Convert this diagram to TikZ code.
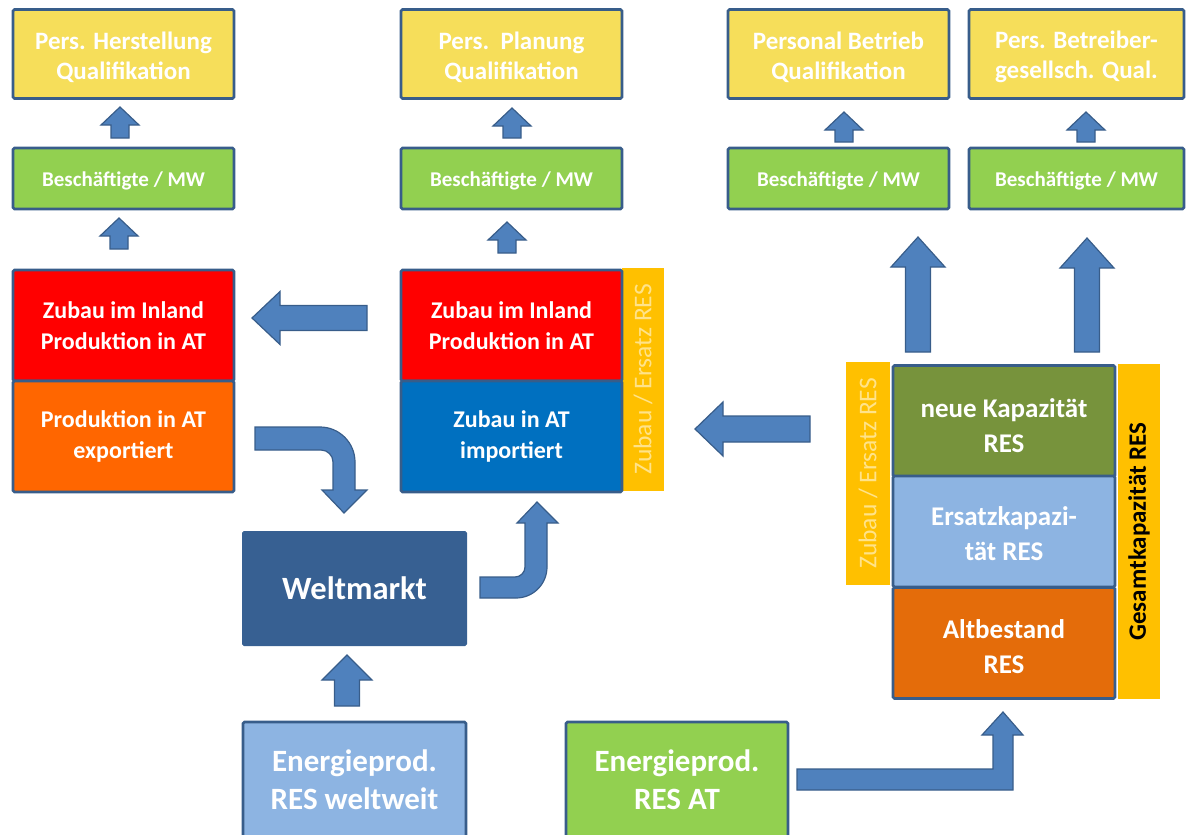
\documentclass[tikz,border=0pt]{standalone}
\usepackage{fontspec}
\setmainfont{Carlito}
\definecolor{bordc}{HTML}{385D8A}
\definecolor{arrfill}{HTML}{4F81BD}
\definecolor{yel}{HTML}{F6DE5A}
\definecolor{grn}{HTML}{92D050}
\definecolor{redc}{HTML}{FF0000}
\definecolor{orgc}{HTML}{FF6600}
\definecolor{bluc}{HTML}{0070C0}
\definecolor{stripc}{HTML}{FFC000}
\definecolor{striptxt}{HTML}{FFE38A}
\definecolor{welt}{HTML}{376092}
\definecolor{lblu}{HTML}{8DB4E2}
\definecolor{olive}{HTML}{77933C}
\definecolor{dorg}{HTML}{E46C0A}
\tikzset{
  box/.style={draw=bordc, line width=2.6pt, rounded corners=1.5pt, inner sep=0pt, align=center, text=white},
  ybox/.style={box, fill=yel, minimum width=221pt, minimum height=89pt, font=\fontsize{25}{30}\selectfont\bfseries},
  gbox/.style={box, fill=grn, minimum width=221pt, minimum height=61pt, font=\fontsize{21}{24}\selectfont\bfseries},
  mbox/.style={box, minimum width=221pt, minimum height=111pt, font=\fontsize{24}{31}\selectfont\bfseries},
  sbox/.style={box, minimum width=222pt, minimum height=111pt, font=\fontsize{27}{35}\selectfont\bfseries},
  ebox/.style={box, minimum width=223pt, minimum height=116pt, font=\fontsize{31}{38}\selectfont\bfseries},
  strip/.style={fill=stripc, inner sep=0pt},
  barrow/.style={fill=arrfill, draw=bordc, line width=1.2pt, line join=miter},
}
\newcommand{\upblk}[6]{%
  \path[barrow] ({#1-#5},#3) -- ({#1-#5},{#2+#6}) -- ({#1-#4},{#2+#6}) -- (#1,#2) -- ({#1+#4},{#2+#6}) -- ({#1+#5},{#2+#6}) -- ({#1+#5},#3) -- cycle;}
\newcommand{\leftblk}[6]{%
  \path[barrow] (#2,{#3-#5}) -- ({#1+#6},{#3-#5}) -- ({#1+#6},{#3-#4}) -- (#1,#3) -- ({#1+#6},{#3+#4}) -- ({#1+#6},{#3+#5}) -- (#2,{#3+#5}) -- cycle;}
\newcommand{\lowertxt}[3]{\raisebox{-#1}[\height][\depth]{\parbox{#2}{\centering #3}}}
\begin{document}
\begin{tikzpicture}[x=1pt,y=-1pt]
\useasboundingbox (0,0) rectangle (1187,835);
\clip (0,0) rectangle (1187,835);
% top row
\node[ybox] (y1) at (123.5,54) {\lowertxt{3pt}{221pt}{Pers. Herstellung\\Qualifikation}};
\node[ybox] (y2) at (511.5,54) {\lowertxt{3pt}{221pt}{Pers.\ \ Planung\\Qualifikation}};
\node[ybox] (y3) at (838.5,54) {\lowertxt{3pt}{221pt}{Personal Betrieb\\Qualifikation}};
\node[ybox, minimum width=215pt] (y4) at (1076.5,54) {\lowertxt{3pt}{215pt}{Pers. Betreiber-\\gesellsch. Qual.}};
% green row
\node[gbox] (g1) at (123.5,178.5) {\lowertxt{2pt}{221pt}{Besch\"aftigte / MW}};
\node[gbox] (g2) at (511.5,178.5) {\lowertxt{2pt}{221pt}{Besch\"aftigte / MW}};
\node[gbox] (g3) at (838.5,178.5) {\lowertxt{2pt}{221pt}{Besch\"aftigte / MW}};
\node[gbox, minimum width=215pt] (g4) at (1076.5,178.5) {\lowertxt{2pt}{215pt}{Besch\"aftigte / MW}};
% left column
\node[mbox, fill=redc] (r1) at (123.5,325.5) {Zubau im Inland\\Produktion in AT};
\node[mbox, fill=orgc] (o1) at (123.5,436.5) {Produktion in AT\\exportiert};
% middle column
\node[strip, minimum width=42pt, minimum height=223pt] (s2) at (643,379.5) {};
\node[rotate=90, text=striptxt, font=\fontsize{25.5}{28}\selectfont] (s2t) at (s2.center) {Zubau / Ersatz RES};
\node[mbox, fill=redc] (r2) at (511.5,325.5) {Zubau im Inland\\Produktion in AT};
\node[mbox, fill=bluc] (b2) at (511.5,436.5) {Zubau in AT\\importiert};
% Weltmarkt
\node[box, fill=welt, draw=welt, line width=1pt, minimum width=224pt, minimum height=114pt, font=\fontsize{32.5}{36}\selectfont\bfseries] (wm) at (354.5,588.5) {Weltmarkt};
% bottom
\node[ebox, fill=lblu] (ew) at (354.5,780) {Energieprod.\\RES weltweit};
\node[ebox, fill=grn, minimum width=222pt] (ea) at (677,780) {Energieprod.\\RES AT};
% right stack
\node[strip, minimum width=44pt, minimum height=223pt] (s3) at (868,473.5) {};
\node[rotate=90, text=striptxt, font=\fontsize{25.5}{28}\selectfont] (s3t) at (s3.center) {Zubau / Ersatz RES};
\node[strip, minimum width=42pt, minimum height=335pt] (s4) at (1139,531.5) {};
\node[rotate=90, text=black, font=\fontsize{25}{28}\selectfont\bfseries] (s4t) at (s4.center) {Gesamtkapazit\"at RES};
\node[sbox, fill=olive] (k1) at (1004,421) {\lowertxt{5pt}{222pt}{neue Kapazit\"at\\RES}};
\node[sbox, fill=lblu] (k2) at (1004,531.5) {\lowertxt{2pt}{222pt}{Ersatzkapazi-\\t\"at RES}};
\node[sbox, fill=dorg] (k3) at (1004,643) {\lowertxt{4pt}{222pt}{Altbestand\\RES}};
% small up arrows
\upblk{120}{107}{138}{19}{9}{18}
\upblk{119}{218}{249}{19}{9}{18}
\upblk{512}{108}{138}{19}{9}{18}
\upblk{507}{222}{253}{19}{9}{18}
\upblk{844}{112}{142}{19}{9}{18}
\upblk{1086}{112}{142}{19}{9}{18}
% big up arrows
\upblk{918}{237}{352}{27}{12.5}{30}
\upblk{1087}{238}{352}{27}{12.5}{30}
% left arrows
\leftblk{252}{367}{318}{26.5}{12.5}{28}
\leftblk{695}{810}{429}{27}{13}{28}
% up from weltweit
\upblk{347}{655}{706}{25}{12.5}{25}
% curved arrow export -> Weltmarkt
\path[barrow] (255,427) -- (320,427) .. controls (339.3,427) and (355,442.7) .. (355,462) -- (355,490) -- (367,490) -- (344,513) -- (322,490) -- (333,490) -- (333,462) .. controls (333,455.4) and (327.6,450) .. (321,450) -- (255,450) -- cycle;
% curved arrow Weltmarkt -> import
\path[barrow] (480,577) -- (515,577) .. controls (520.5,577) and (525,572.5) .. (525,567) -- (525,523) -- (517,523) -- (537,502) -- (558,523) -- (547,523) -- (547,567) .. controls (547,584.1) and (533.1,598) .. (516,598) -- (480,598) -- cycle;
% arrow RES AT -> stack
\path[barrow] (797,769) -- (993,769) -- (993,735) -- (982,735) -- (1003,712) -- (1023,735) -- (1013,735) -- (1013,790) -- (797,790) -- cycle;
\end{tikzpicture}
\end{document}
